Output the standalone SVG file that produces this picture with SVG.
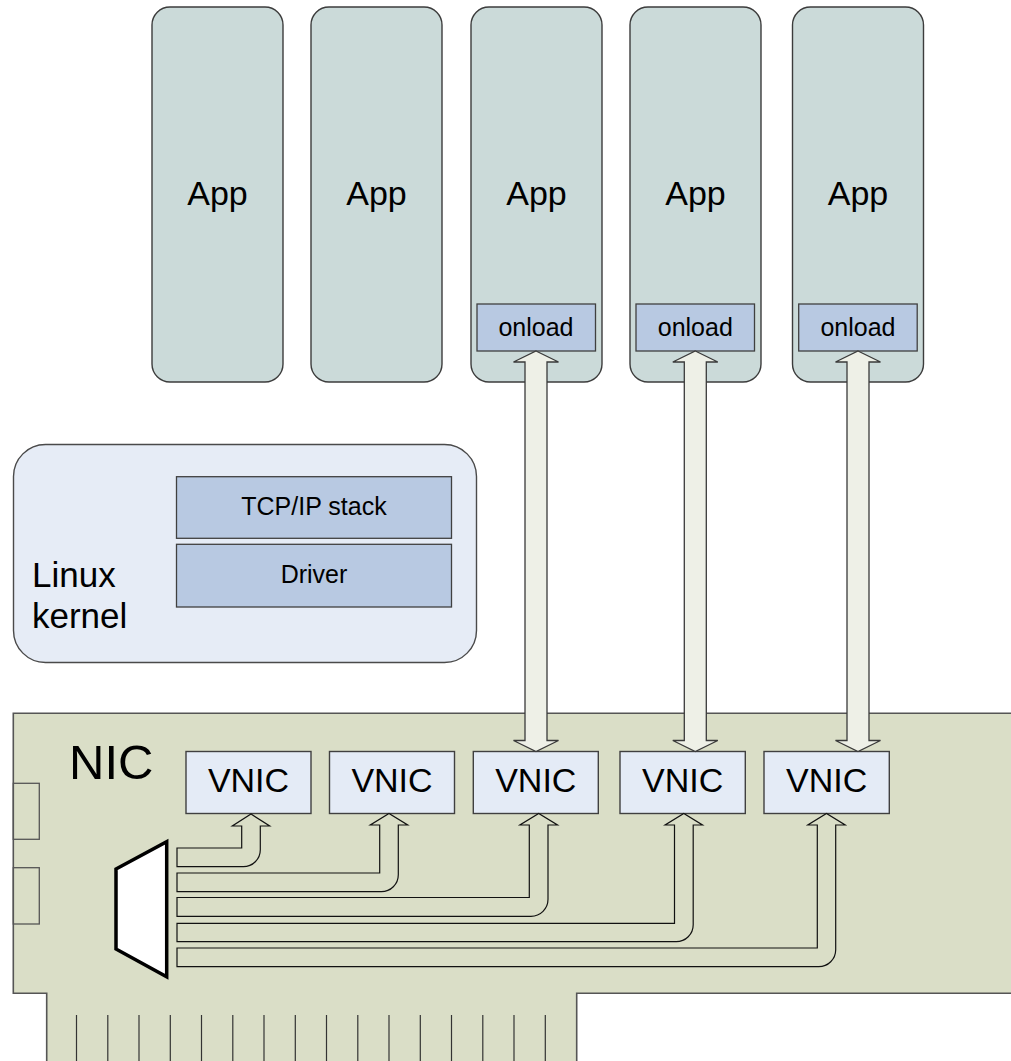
<svg xmlns="http://www.w3.org/2000/svg" width="1011" height="1061" viewBox="0 0 1011 1061">
<style>
text{font-family:"Liberation Sans",Arial,sans-serif;fill:#000}
.app{fill:#cbdad9;stroke:#3c3c3c;stroke-width:1.4}
.blue{fill:#b8c9e2;stroke:#404040;stroke-width:1.3}
.kern{fill:#e6ecf6;stroke:#4a4a4a;stroke-width:1.4}
.board{fill:#dadec7;stroke:#555;stroke-width:1.6}
.vnic{fill:#e4ebf6;stroke:#404040;stroke-width:1.4}
.band{fill:#dadec7;stroke:#111;stroke-width:1.2}
.varr{fill:#eef0e7;stroke:#3a3a3a;stroke-width:1.3}
.port{fill:none;stroke:#555;stroke-width:1.3}
.pin{stroke:#333;stroke-width:1.2}
.big{font-size:34px}
.mid{font-size:25px}
</style>
<g id="app1"><rect class="app" x="152" y="7" width="131" height="375" rx="18"/><text class="big" x="217.5" y="205" text-anchor="middle">App</text></g>
<g id="app2"><rect class="app" x="311" y="7" width="131" height="375" rx="18"/><text class="big" x="376.5" y="205" text-anchor="middle">App</text></g>
<g id="app3"><rect class="app" x="471" y="7" width="131" height="375" rx="18"/><text class="big" x="536.5" y="205" text-anchor="middle">App</text>
<rect class="blue" x="477" y="304" width="118.5" height="47"/><text class="mid" x="536" y="336" text-anchor="middle">onload</text></g>
<g id="app4"><rect class="app" x="630" y="7" width="131" height="375" rx="18"/><text class="big" x="695.5" y="205" text-anchor="middle">App</text>
<rect class="blue" x="636" y="304" width="118.5" height="47"/><text class="mid" x="695.3" y="336" text-anchor="middle">onload</text></g>
<g id="app5"><rect class="app" x="792.5" y="7" width="131" height="375" rx="18"/><text class="big" x="858" y="205" text-anchor="middle">App</text>
<rect class="blue" x="798.7" y="304" width="118.5" height="47"/><text class="mid" x="858" y="336" text-anchor="middle">onload</text></g>
<g id="kernel"><rect class="kern" x="13.5" y="444.5" width="463" height="218" rx="32"/>
<text style="font-size:35px" x="32" y="587">Linux</text><text style="font-size:35px" x="32" y="628">kernel</text>
<rect class="blue" x="176.5" y="476.7" width="275" height="61.6"/><text class="mid" x="314" y="515" text-anchor="middle">TCP/IP stack</text>
<rect class="blue" x="176.5" y="544.3" width="275" height="62.7"/><text class="mid" x="314" y="583.3" text-anchor="middle">Driver</text></g>
<g id="nic">
<path class="board" d="M13.3,713.3 H1020 V993.3 H576.7 V1070 H46.7 V993.3 H13.3 Z"/>
<rect class="port" x="13.3" y="783.3" width="26" height="56"/>
<rect class="port" x="13.3" y="867.7" width="26" height="56.3"/>
<g>
<line class="pin" x1="76.5" y1="1015" x2="76.5" y2="1061"/><line class="pin" x1="107.8" y1="1015" x2="107.8" y2="1061"/>
<line class="pin" x1="139" y1="1015" x2="139" y2="1061"/><line class="pin" x1="170.3" y1="1015" x2="170.3" y2="1061"/>
<line class="pin" x1="201.5" y1="1015" x2="201.5" y2="1061"/><line class="pin" x1="232.8" y1="1015" x2="232.8" y2="1061"/>
<line class="pin" x1="264" y1="1015" x2="264" y2="1061"/><line class="pin" x1="295.3" y1="1015" x2="295.3" y2="1061"/>
<line class="pin" x1="326.5" y1="1015" x2="326.5" y2="1061"/><line class="pin" x1="357.8" y1="1015" x2="357.8" y2="1061"/>
<line class="pin" x1="389" y1="1015" x2="389" y2="1061"/><line class="pin" x1="420.3" y1="1015" x2="420.3" y2="1061"/>
<line class="pin" x1="451.5" y1="1015" x2="451.5" y2="1061"/><line class="pin" x1="482.8" y1="1015" x2="482.8" y2="1061"/>
<line class="pin" x1="514" y1="1015" x2="514" y2="1061"/><line class="pin" x1="545.3" y1="1015" x2="545.3" y2="1061"/>
</g>
<text style="font-size:49px" x="69" y="779">NIC</text>
</g>
<g id="mux"><polygon points="116,869 166.7,841.7 166.7,976.7 116,949" fill="#fff" stroke="#000" stroke-width="3.5" stroke-linejoin="miter"/></g>
<g id="vnic1"><rect class="vnic" x="186" y="751.5" width="125" height="62"/><text class="big" x="248.5" y="792" text-anchor="middle">VNIC</text></g>
<g id="vnic2"><rect class="vnic" x="329.5" y="751.5" width="125" height="62"/><text class="big" x="392" y="792" text-anchor="middle">VNIC</text></g>
<g id="vnic3"><rect class="vnic" x="473.3" y="751.5" width="125" height="62"/><text class="big" x="535.8" y="792" text-anchor="middle">VNIC</text></g>
<g id="vnic4"><rect class="vnic" x="620" y="751.5" width="125.3" height="62"/><text class="big" x="682.6" y="792" text-anchor="middle">VNIC</text></g>
<g id="vnic5"><rect class="vnic" x="764" y="751.5" width="125.3" height="62"/><text class="big" x="826.6" y="792" text-anchor="middle">VNIC</text></g>
<g id="connectors">
<path class="band" d="M177,848 H241.7 V826 H232.3 L251,814 L269.7,826 H260.3 V849.7 A17,17 0 0 1 243.3,866.7 H177 Z"/>
<path class="band" d="M177,873 H379.7 V825 H370.3 L389,813.5 L407.7,825 H398.3 V874.7 A17,17 0 0 1 381.3,891.7 H177 Z"/>
<path class="band" d="M177,897.5 H529.3 V825 H519.9 L538.7,813.5 L557.5,825 H548 V899.3 A17,17 0 0 1 531,916.3 H177 Z"/>
<path class="band" d="M177,923.3 H674.5 V825 H665.1 L683.8,813.5 L702.5,825 H693.2 V924.7 A17,17 0 0 1 676.2,941.7 H177 Z"/>
<path class="band" d="M177,948 H817.3 V825 H807.8 L826.5,813.5 L845.2,825 H835.7 V949.7 A17,17 0 0 1 818.7,966.7 H177 Z"/>
<path class="varr" d="M536,351 L558.5,362 H547 V740.5 H558.5 L536,751.5 L513.5,740.5 H525 V362 H513.5 Z"/>
<path class="varr" d="M695.3,351 L717.8,362 H706.3 V740.5 H717.8 L695.3,751.5 L672.8,740.5 H684.3 V362 H672.8 Z"/>
<path class="varr" d="M858,351 L880.5,362 H869 V740.5 H880.5 L858,751.5 L835.5,740.5 H847 V362 H835.5 Z"/>
</g>
</svg>
